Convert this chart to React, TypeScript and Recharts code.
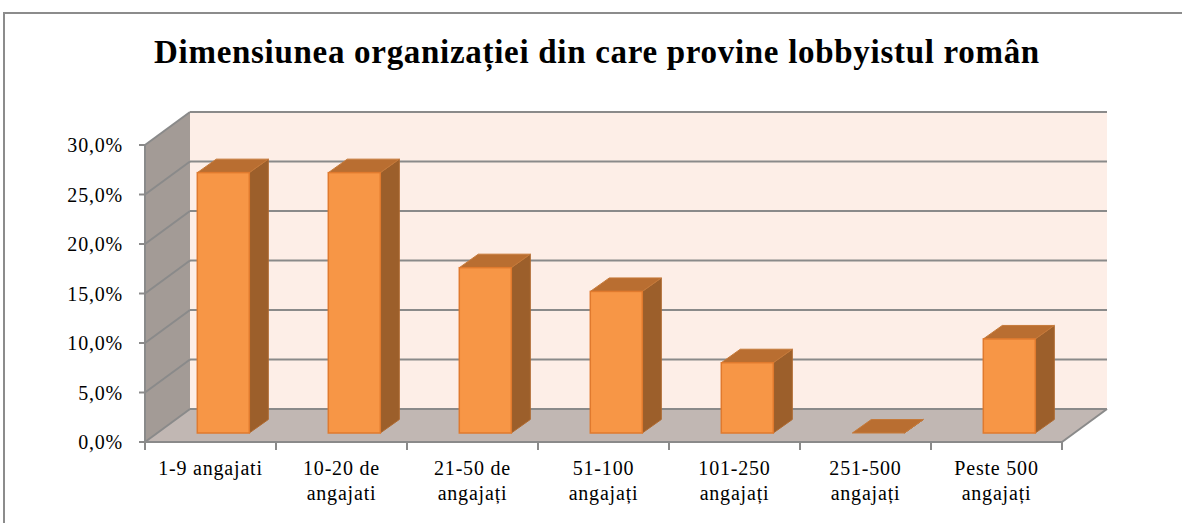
import React from 'react';
import { BarChart, Bar, XAxis, YAxis, CartesianGrid } from 'recharts';

const title = 'Dimensiunea organizației din care provine lobbyistul român';
const categories = [
  '1-9 angajati',
  '10-20 de\nangajati',
  '21-50 de\nangajați',
  '51-100\nangajați',
  '101-250\nangajați',
  '251-500\nangajați',
  'Peste 500\nangajați',
];
const values = [26.3, 26.3, 16.7, 14.3, 7.1, 0, 9.5];
const yTicks = [0, 5, 10, 15, 20, 25, 30];

const data = categories.map((name, i) => ({ name, value: values[i] }));

// 3D depth offsets
const BDX = 45;
const BDY = -33;
const BAR_OX = 12.3;
const BAR_OY = -9;
const BAR_DX = 19;
const BAR_DY = -13.5;

const GRID = '#8a8a8a';
const FONT = '"Liberation Serif", serif';

const gridLine = (props: any) => {
  const { x1, y1, x2, index, x, y, width, height } = props;
  const bottom = y + height;
  return (
    <g>
      {index === 0 && (
        <g>
          <rect x={x + BDX} y={y + BDY} width={width} height={height} fill="#FDEEE7" />
          <polygon
            points={`${x},${y} ${x + BDX},${y + BDY} ${x + BDX},${bottom + BDY} ${x},${bottom}`}
            fill="#A39B96"
          />
          <polygon
            points={`${x},${bottom} ${x + width},${bottom} ${x + width + BDX},${bottom + BDY} ${x + BDX},${bottom + BDY}`}
            fill="#C1B7B3"
          />
          <line x1={x + width} y1={bottom} x2={x + width + BDX} y2={bottom + BDY} stroke={GRID} strokeWidth={2} />
        </g>
      )}
      <line x1={x1 + BDX} y1={y1 + BDY} x2={x2 + BDX} y2={y1 + BDY} stroke={GRID} strokeWidth={2} />
      <line x1={x1} y1={y1} x2={x1 + BDX} y2={y1 + BDY} stroke={GRID} strokeWidth={2} />
    </g>
  );
};

const Bar3D = (props: any) => {
  const { x, y, width, height } = props;
  const h = Math.max(height || 0, 0);
  const fx = x + BAR_OX;
  const fy = y + BAR_OY;
  const w = width;
  return (
    <g>
      <polygon
        points={`${fx + w},${fy} ${fx + w + BAR_DX},${fy + BAR_DY} ${fx + w + BAR_DX},${fy + h + BAR_DY} ${fx + w},${fy + h}`}
        fill="#9C5F2B"
        stroke="#B06A30"
        strokeWidth={1}
      />
      <polygon
        points={`${fx},${fy} ${fx + w},${fy} ${fx + w + BAR_DX},${fy + BAR_DY} ${fx + BAR_DX},${fy + BAR_DY}`}
        fill="#B96E31"
        stroke="#C67A3A"
        strokeWidth={1}
      />
      {h > 0 && (
        <rect x={fx} y={fy} width={w} height={h} fill="#F79646" stroke="#E07A2E" strokeWidth={1.5} />
      )}
    </g>
  );
};

const XTick = (props: any) => {
  const { x, y, payload } = props;
  const half =
    payload && payload.offset
      ? payload.offset
      : props.width && props.visibleTicksCount
      ? props.width / props.visibleTicksCount / 2
      : 65.5;
  const lines = String(payload.value).split('\n');
  const isLast = props.index === (props.visibleTicksCount || categories.length) - 1;
  return (
    <g>
      <line x1={x - half} y1={y} x2={x - half} y2={y + 8} stroke={GRID} strokeWidth={2} />
      {isLast && <line x1={x + half} y1={y} x2={x + half} y2={y + 8} stroke={GRID} strokeWidth={2} />}
      {lines.map((l, i) => (
        <text
          key={i}
          x={x}
          y={y + 33 + i * 25}
          textAnchor="middle"
          fontFamily={FONT}
          fontSize={20}
          letterSpacing={0.8}
          fill="#000"
        >
          {l}
        </text>
      ))}
    </g>
  );
};

const fmt = (v: number) => v.toFixed(1).replace('.', ',') + '%';

export default function App() {
  return (
    <div style={{ position: 'absolute', left: 0, top: 0, width: 1182, height: 523, overflow: 'hidden', background: '#fff' }}>
      <div
        style={{
          position: 'absolute',
          left: 3,
          top: 12,
          width: 1300,
          height: 700,
          borderLeft: '2px solid #8c8c8c',
          borderTop: '2px solid #8c8c8c',
          boxSizing: 'border-box',
        }}
      />
      <div style={{ position: 'absolute', left: 0, top: 0 }}>
        <BarChart width={1182} height={523} data={data} margin={{ top: 145, right: 120, left: 65, bottom: 21 }} barSize={52}>
          <text
            x={597}
            y={63}
            textAnchor="middle"
            fontFamily={FONT}
            fontWeight="bold"
            fontSize={33}
            letterSpacing={0.7}
            fill="#000"
          >
            {title}
          </text>
          <CartesianGrid vertical={false} horizontal={gridLine} />
          <XAxis
            dataKey="name"
            height={60}
            tickLine={false}
            tickSize={0}
            tickMargin={0}
            axisLine={{ stroke: GRID, strokeWidth: 2 }}
            tick={<XTick />}
            interval={0}
          />
          <YAxis
            width={80}
            domain={[0, 30]}
            ticks={yTicks}
            tickFormatter={fmt}
            tickSize={6}
            tickMargin={16}
            axisLine={{ stroke: GRID, strokeWidth: 2 }}
            tickLine={{ stroke: GRID, strokeWidth: 2 }}
            tick={{ fontFamily: FONT, fontSize: 20, fill: '#000', letterSpacing: 0.8 }}
          />
          <Bar dataKey="value" shape={<Bar3D />} isAnimationActive={false} />
        </BarChart>
      </div>
    </div>
  );
}
